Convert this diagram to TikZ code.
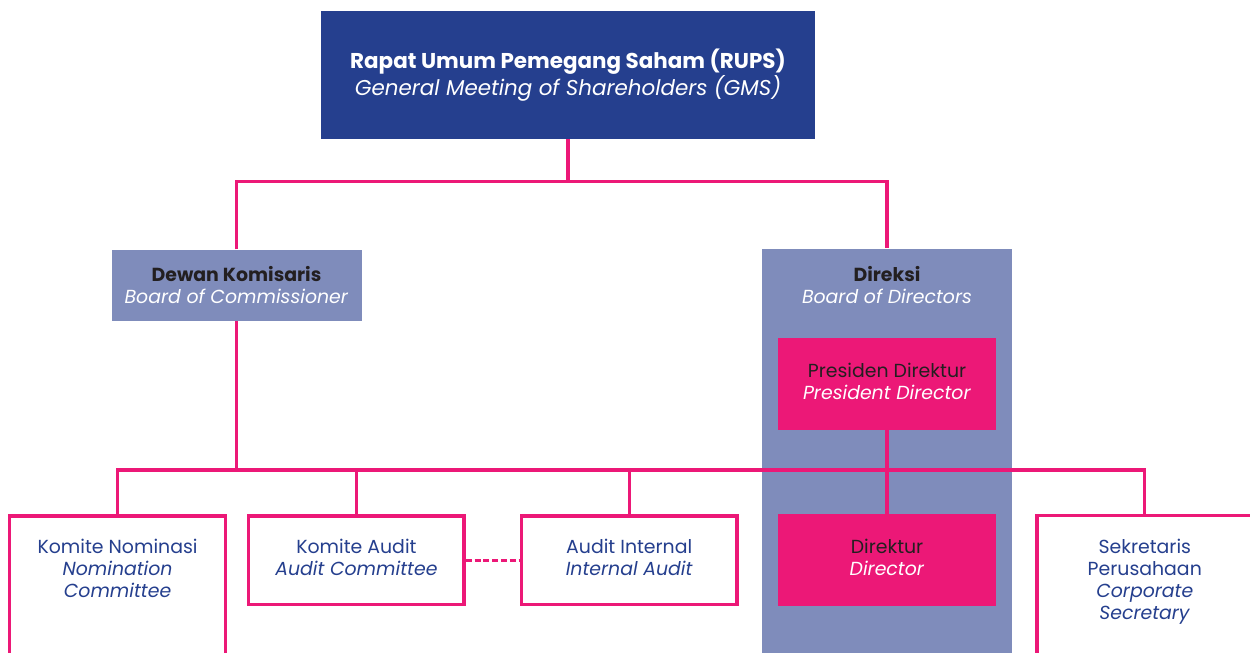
\documentclass[tikz,border=0pt]{standalone}
\usepackage{fontspec}
\setmainfont{Poppins}
\usetikzlibrary{positioning}
\definecolor{gmsblue}{HTML}{253F8E}
\definecolor{boardlav}{HTML}{7F8CBB}
\definecolor{pinkline}{HTML}{EC1877}
\definecolor{darktext}{HTML}{231F20}

\begin{document}
\begin{tikzpicture}[
    every node/.style={inner sep=0pt, align=center, font=\fontsize{10.75}{12.6}\selectfont},
    link/.style={draw=pinkline, line width=1.9pt},
    dashlink/.style={link, dash pattern=on 3.4pt off 1.6pt},
    gms/.style={fill=gmsblue, text=white, minimum width=9.88cm, minimum height=2.56cm,
                font=\fontsize{12.2}{13.6}\selectfont},
    board/.style={fill=boardlav, minimum width=5cm},
    director/.style={fill=pinkline, text=darktext, text depth=0.11cm,
                     minimum width=4.36cm, minimum height=1.84cm},
    unit/.style={draw=pinkline, line width=1.9pt, fill=white, text=gmsblue, text depth=0.11cm,
                 minimum width=4.31cm, minimum height=1.77cm},
    tallunit/.style={unit, minimum height=3.8cm},
]
\useasboundingbox (0,0) rectangle (25,-13.06);
\clip (0,0) rectangle (25,-13.06);

% -- RUPS --
\node[gms] (rups) at (11.36,-1.5)
    {\textbf{Rapat Umum Pemegang Saham (RUPS)}\\\textit{General Meeting of Shareholders (GMS)}};

% -- Boards --
\node[board, minimum height=1.42cm, below=2.2cm of rups.south, xshift=-6.63cm]
    (dewan) {\textcolor{darktext}{\textbf{Dewan Komisaris}}\\\textcolor{white}{\textit{Board of Commissioner}}};
\node[board, minimum height=9.04cm, below=2.18cm of rups.south, xshift=6.38cm]
    (direksi) {};
\node (direksititle) at ([yshift=-0.74cm]direksi.north)
    {\textcolor{darktext}{\textbf{Direksi}}\\\textcolor{white}{\textit{Board of Directors}}};

% -- Directors --
\node[director, below=1.78cm of direksi.north, anchor=north]
    (presdir) {Presiden Direktur\\\textcolor{white}{\textit{President Director}}};
\node[director, below=1.68cm of presdir]
    (direktur) {Direktur\\\textcolor{white}{\textit{Director}}};

% -- Units --
\node[unit, left=0.78cm of direktur] (auditint) {Audit Internal\\\textit{Internal Audit}};
\node[unit, left=1.08cm of auditint] (komaudit) {Komite Audit\\\textit{Audit Committee}};
\node[tallunit, left=0.4cm of komaudit.north west, anchor=north east] (nominasi) {};
\node[text=gmsblue] (nominasititle) at ([yshift=-1.08cm]nominasi.north)
    {Komite Nominasi\\\textit{Nomination}\\\textit{Committee}};
\node[tallunit, right=0.78cm of direktur.north east, anchor=north west] (sekretaris) {};
\node[text=gmsblue] (sekretaristitle) at ([yshift=-1.35cm]sekretaris.north)
    {Sekretaris\\Perusahaan\\\textit{Corporate}\\\textit{Secretary}};

% -- Connectors --
\coordinate (split) at ([yshift=-0.84cm]rups.south);
\coordinate (bus) at (dewan.south |- 0,-9.4);
\draw[link] (rups.south) -- (split);
\draw[link] (dewan.north) |- (split) -| (direksi.north);
\draw[link] (dewan.south) -- (bus);
\draw[link] (nominasi.north) |- (bus) -| (sekretaris.north);
\draw[link] (komaudit.north) -- (komaudit.north |- bus);
\draw[link] (auditint.north) -- (auditint.north |- bus);
\draw[link] (presdir.south) -- (direktur.north);
\draw[dashlink] (komaudit.east) -- (auditint.west);

\end{tikzpicture}
\end{document}
